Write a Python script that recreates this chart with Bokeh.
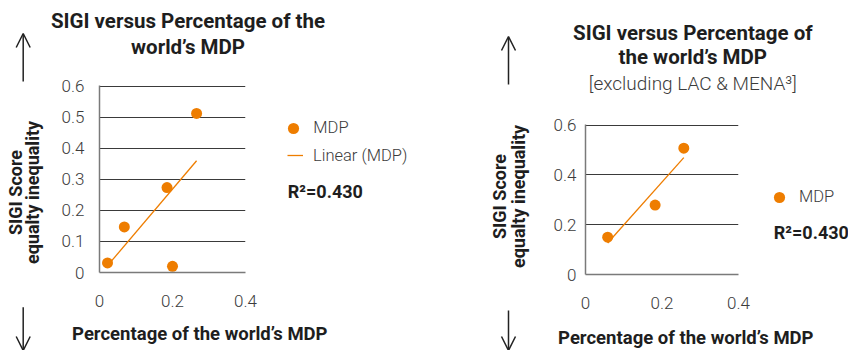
import numpy as np
from bokeh.plotting import figure
from bokeh.layouts import row, column
from bokeh.models import (Range1d, FixedTicker, Label, Legend, LegendItem,
                          Arrow, OpenHead)
from bokeh.embed import file_html
from bokeh.resources import INLINE

# --- data -------------------------------------------------------------
# All regions: share of the world's MDP vs SIGI score
all_share = [0.022, 0.068, 0.185, 0.200, 0.266]
all_sigi = [0.031, 0.147, 0.274, 0.020, 0.513]

# Excluding LAC & MENA
excl_share = [0.058, 0.182, 0.257]
excl_sigi = [0.150, 0.279, 0.508]

x_ticks = [0, 0.2, 0.4]
x_tick_labels = ["0", "0.2", "0.4"]
left_y_ticks = [0, 0.1, 0.2, 0.3, 0.4, 0.5, 0.6]
left_y_tick_labels = ["0", "0.1", "0.2", "0.3", "0.4", "0.5", "0.6"]
right_y_ticks = [0, 0.2, 0.4, 0.6]
right_y_tick_labels = ["0", "0.2", "0.4", "0.6"]

left_r2 = "R\u00b2=0.430"
right_r2 = "R\u00b2=0.430"

# --- styling ------------------------------------------------------------
ORANGE = "#EE7D00"
DARK = "#1e1e1e"
GREY_TXT = "#3c3c3c"
BOLD_FONT = "Roboto"
LIGHT_FONT = "'Roboto Light', Roboto"
TOP_B, BOTTOM_B = 11, 40   # borders shared by a chart and its key panel


def chart_figure(w, h, bl, y_ticks, y_labels, y_standoff):
    p = figure(width=w, height=h, output_backend="svg", toolbar_location=None,
               x_range=Range1d(0, 0.4), y_range=Range1d(0, 0.603),
               min_border_left=bl, min_border_right=15,
               min_border_top=TOP_B, min_border_bottom=BOTTOM_B)
    p.outline_line_color = None
    p.border_fill_color = "white"

    p.xaxis.ticker = FixedTicker(ticks=x_ticks)
    p.xaxis.major_label_overrides = dict(zip(x_ticks, x_tick_labels))
    p.yaxis.ticker = FixedTicker(ticks=y_ticks)
    p.yaxis.major_label_overrides = dict(zip(y_ticks, y_labels))
    for ax in (p.xaxis, p.yaxis):
        ax.major_tick_line_color = None
        ax.minor_tick_line_color = None
        ax.axis_line_color = "#7a7a7a"
        ax.axis_line_width = 1.5
        ax.major_label_text_font = LIGHT_FONT
        ax.major_label_text_font_size = "17px"
        ax.major_label_text_color = GREY_TXT
    p.xaxis.major_label_standoff = 16
    p.yaxis.major_label_standoff = y_standoff

    p.xgrid.visible = False
    p.ygrid.ticker = FixedTicker(ticks=y_ticks)
    p.ygrid.grid_line_color = "#3a3a3a"
    p.ygrid.grid_line_width = 1
    return p


def text_figure(w, h, top=0, bottom=0):
    # a bare canvas that carries titles, notes and legend keys
    p = figure(width=w, height=h, output_backend="svg", toolbar_location=None,
               x_range=Range1d(0, 1), y_range=Range1d(0, 1),
               x_axis_location=None, y_axis_location=None,
               min_border_left=0, min_border_right=0,
               min_border_top=top, min_border_bottom=bottom)
    p.outline_line_color = None
    p.grid.visible = False
    return p


def add_series(p, xs, ys):
    slope, intercept = np.polyfit(xs, ys, 1)
    fx = [min(xs), max(xs)]
    fy = [slope * v + intercept for v in fx]
    p.line(fx, fy, line_color=ORANGE, line_width=1.3)
    p.scatter(xs, ys, size=11, fill_color=ORANGE, line_color=None)


def text(p, x, y, s, size, bold=False, align="center", angle=0.0, color=DARK):
    p.add_layout(Label(x=x, y=y, x_units="screen", y_units="screen", text=s,
                       text_font=BOLD_FONT if bold else LIGHT_FONT,
                       text_font_size=size,
                       text_font_style="bold" if bold else "normal",
                       text_align=align, text_baseline="middle",
                       angle=angle, text_color=color))


def legend(p, renderer, label, loc, gw, gh, standoff):
    p.add_layout(Legend(items=[LegendItem(label=label, renderers=[renderer])],
                        location=loc, glyph_width=gw, glyph_height=gh,
                        label_standoff=standoff, label_height=gh,
                        padding=0, margin=0, spacing=0,
                        border_line_color=None, background_fill_alpha=0,
                        label_text_font=LIGHT_FONT, label_text_font_size="16.5px",
                        label_text_color=GREY_TXT))


def arrows(p, x, up_from, up_to, down_from, down_to):
    for a, b in ((up_from, up_to), (down_from, down_to)):
        p.add_layout(Arrow(x_start=x, y_start=a, x_end=x, y_end=b,
                           start_units="screen", end_units="screen",
                           line_color="#222222", line_width=1.5,
                           end=OpenHead(size=14, line_color="#222222", line_width=1.5)))


# --- left block: all regions -------------------------------------------
side_l = text_figure(50, 350)
arrows(side_l, 22.7, 269, 317, 43.3, 0)
text(side_l, 14.5, 158, "SIGI Score", "18px", bold=True, angle=np.pi / 2)
text(side_l, 32, 158, "equalty inequality", "18px", bold=True, angle=np.pi / 2)

top_l = text_figure(374, 74)
text(top_l, 137.5, 53.2, "SIGI versus Percentage of the", "20.5px", bold=True)
text(top_l, 137.5, 27.7, "world\u2019s MDP", "20.5px", bold=True)

chart_l = chart_figure(210, 238, 49, left_y_ticks, left_y_tick_labels, 9)
add_series(chart_l, all_share, all_sigi)

key_l = text_figure(164, 238, TOP_B, BOTTOM_B)
key_pts_l = key_l.scatter([np.nan], [np.nan], size=11, fill_color=ORANGE, line_color=None)
key_line_l = key_l.line([np.nan], [np.nan], line_color=ORANGE, line_width=1.3)
legend(key_l, key_pts_l, "MDP", (19.3, 130.3), 28, 28, 6)
legend(key_l, key_line_l, "Linear (MDP)", (27, 103), 16, 28, 10)
text(key_l, 27.3, 81, left_r2, "18px", bold=True, align="left")

bottom_l = text_figure(374, 38)
text(bottom_l, 149.3, 16.3, "Percentage of the world\u2019s MDP", "18.5px", bold=True)

block_l = row(side_l, column(top_l, row(chart_l, key_l), bottom_l))

# --- right block: excluding LAC & MENA ---------------------------------
side_r = text_figure(112, 350)
arrows(side_r, 84, 266, 314, 40, 0)
text(side_r, 75, 154, "SIGI Score", "18px", bold=True, angle=np.pi / 2)
text(side_r, 94, 154, "equalty inequality", "18px", bold=True, angle=np.pi / 2)

top_r = text_figure(312, 113)
text(top_r, 156.3, 80.5, "SIGI versus Percentage of", "20.5px", bold=True)
text(top_r, 156.3, 56.2, "the world\u2019s MDP", "20.5px", bold=True)
text(top_r, 156.3, 30, "[excluding LAC & MENA\u00b3]", "19px", color=GREY_TXT)

chart_r = chart_figure(217, 201, 49, right_y_ticks, right_y_tick_labels, 3)
add_series(chart_r, excl_share, excl_sigi)

key_r = text_figure(95, 201, TOP_B, BOTTOM_B)
key_pts_r = key_r.scatter([np.nan], [np.nan], size=11, fill_color=ORANGE, line_color=None)
legend(key_r, key_pts_r, "MDP", (12, 63.3), 28, 28, 6)
text(key_r, 20.3, 42, right_r2, "18px", bold=True, align="left")

bottom_r = text_figure(312, 36)
text(bottom_r, 149.3, 13, "Percentage of the world\u2019s MDP", "18.5px", bold=True)

block_r = row(side_r, column(top_r, row(chart_r, key_r), bottom_r))

layout = row(block_l, block_r)
open("out.html", "w").write(file_html(layout, INLINE))
